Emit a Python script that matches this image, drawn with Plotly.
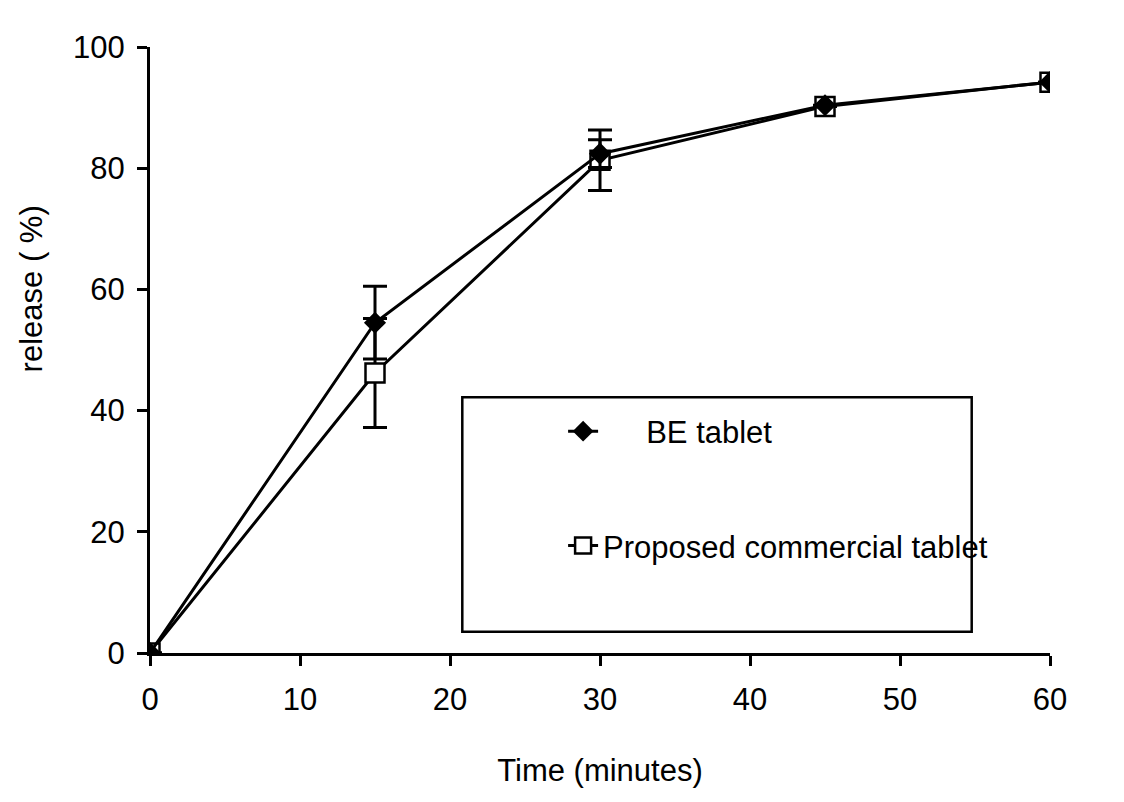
import plotly.graph_objects as go

# dissolution data
time_min = [0, 15, 30, 45, 60]

be_release = [0, 54.5, 82.4, 90.4, 94.2]
be_err = [0, 6.0, 2.3, 0, 0]

prop_release = [0, 46.2, 81.3, 90.2, 94.2]
prop_err = [0, 9.0, 5.0, 0, 0]

FONT = "Arial, Liberation Sans, sans-serif"

fig = go.Figure()

fig.add_trace(go.Scatter(
    x=time_min, y=prop_release,
    mode='lines+markers',
    name='Proposed commercial tablet',
    legendgroup='b', legendrank=2,
    line=dict(color='black', width=3),
    marker=dict(symbol='square', size=19, color='white',
                line=dict(color='black', width=2.5)),
    error_y=dict(type='data', array=prop_err, visible=True,
                 color='black', thickness=3, width=12),
))

fig.add_trace(go.Scatter(
    x=time_min, y=be_release,
    mode='lines+markers',
    name='\u00a0\u00a0\u00a0\u00a0\u00a0BE tablet',
    legendgroup='a', legendrank=1,
    line=dict(color='black', width=3),
    marker=dict(symbol='diamond', size=17, color='black'),
    error_y=dict(type='data', array=be_err, visible=True,
                 color='black', thickness=3, width=12),
))

# legend frame
fig.add_shape(type='rect', xref='paper', yref='paper',
              x0=0.347, x1=0.913, y0=0.035, y1=0.422,
              line=dict(color='black', width=2.5), fillcolor='rgba(0,0,0,0)')

# y title placed like the original (above centre)
fig.add_annotation(text='release ( %)', textangle=-90,
                   xref='paper', yref='paper', x=0, y=0.6,
                   xanchor='center', yanchor='middle', xshift=-119,
                   showarrow=False, font=dict(size=31))

# page body adds 8px offset, so margins are shifted by that
fig.update_layout(
    width=1124, height=802,
    margin=dict(l=142, r=82, t=39, b=157),
    paper_bgcolor='white', plot_bgcolor='white',
    font=dict(family=FONT, color='black', size=31),
    showlegend=True,
    legend=dict(
        x=0.459, y=0.41, xanchor='left', yanchor='top',
        traceorder='grouped', tracegroupgap=71,
        bgcolor='rgba(0,0,0,0)', borderwidth=0,
        font=dict(size=31, family=FONT),
    ),
    xaxis=dict(
        range=[0, 60], tickvals=[0, 10, 20, 30, 40, 50, 60],
        showgrid=False, zeroline=False, automargin=False,
        showline=True, linecolor='black', linewidth=3,
        ticks='outside', ticklen=10, tickwidth=3, tickcolor='black',
        tickfont=dict(size=31), ticklabelstandoff=7,
        title=dict(text='Time (minutes)', font=dict(size=31), standoff=44),
    ),
    yaxis=dict(
        range=[0, 100], tickvals=[0, 20, 40, 60, 80, 100],
        showgrid=False, zeroline=False, automargin=False,
        showline=True, linecolor='black', linewidth=3,
        ticks='outside', ticklen=10, tickwidth=3, tickcolor='black',
        tickfont=dict(size=31), ticklabelstandoff=6,
    ),
)

fig.write_html("out.html")
